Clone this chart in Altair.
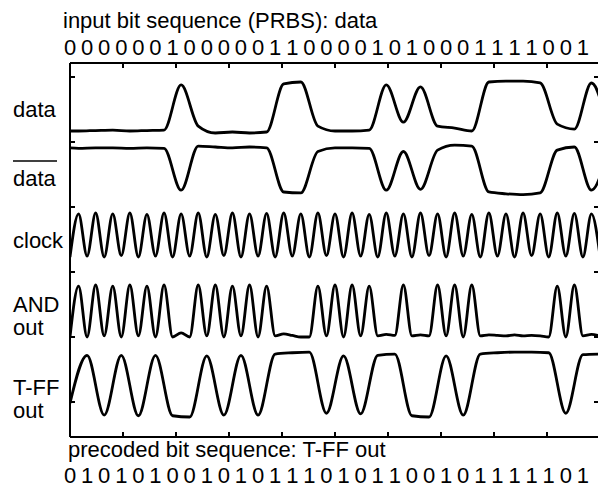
import altair as alt
import pandas as pd

# ---------------- data ----------------
INPUT_BITS = list("0000001000001100001010001111001")
TFF_BITS = list("0101010010101110101100101111101")
TRACE_NAMES = ["data", "data_bar", "clock", "and_out", "tff_out"]
TRACE_LABELS = ["data", "data", "clock", "AND\nout", "T-FF\nout"]
TOP_TITLE = "input bit sequence (PRBS): data"
BOTTOM_TITLE = "precoded bit sequence: T-FF out"

# sample instants, in bit periods
DATA_T = [0.0] + [i + 0.5 for i in range(31)] + [31.5]
HALF_T = [k / 2 for k in range(63)]
TFF_T = list(range(32))

# normalised trace levels (0 = trace low level, 1 = trace high level)
DATA_LEVELS = [0.0,
               0.0, 0.01, 0.02, 0.0, 0.01, 0.02, 0.94, 0.1, -0.04, -0.02,
               -0.04, -0.02, 0.96, 1.0, 0.1, 0.0, 0.0, 0.02, 0.94, 0.18,
               0.9, 0.1, 0.06, 0.0, 1.0, 1.02, 1.02, 0.98, 0.14, 0.04,
               0.98,
               0.0]
DATABAR_LEVELS = [0.98,
                  0.97, 0.98, 0.98, 0.97, 0.98, 0.97, 0.04, 1.02, 1.0, 0.98,
                  1.0, 0.98, 0.0, -0.02, 0.9, 0.98, 0.98, 0.97, 0.04, 0.9,
                  0.06, 0.93, 1.04, 1.02, 0.0, -0.04, -0.06, -0.02, 0.93, 1.0,
                  0.04,
                  1.0]
CLOCK_LEVELS = [0.0,
                0.98, 0.02, 1.0, 0.0, 0.98, 0.03, 1.0, 0.0, 0.97, 0.02,
                1.0, 0.0, 0.98, 0.02, 1.0, 0.0, 0.97, 0.03, 1.0, 0.0,
                0.98, 0.02, 0.99, 0.0, 1.0, 0.02, 0.98, 0.0, 1.0, 0.03,
                0.98, 0.0, 1.0, 0.02, 0.97, 0.0, 1.0, 0.02, 0.98, 0.0,
                1.0, 0.03, 0.98, 0.0, 1.0, 0.02, 0.97, 0.0, 1.0, 0.02,
                0.98, 0.0, 1.0, 0.03, 0.98, 0.0, 1.0, 0.02, 0.99, 0.0,
                0.98, 0.02]
AND_LEVELS = [0.0,
              0.98, 0.0, 1.0, 0.02, 0.98, 0.0, 1.0, 0.02, 0.98, 0.0,
              1.0, 0.0, 0.08, 0.0, 1.0, 0.02, 1.0, 0.0, 0.98, 0.02,
              1.0, 0.0, 0.98, 0.02, 0.06, 0.03, 0.0, 0.0, 0.98, 0.02,
              1.0, 0.0, 1.0, 0.02, 0.98, 0.02, 0.05, 0.03, 1.0, 0.02,
              0.04, 0.02, 1.0, 0.02, 1.0, 0.0, 1.0, 0.02, 0.04, 0.03,
              0.02, 0.04, 0.02, 0.03, 0.02, 0.0, 0.98, 0.0, 1.0, 0.02,
              0.05, 0.02]
TFF_LEVELS = [0.22, 0.98, 0.03, 0.98, 0.02, 0.98, 0.02, 0.0, 0.97, 0.03,
              0.98, 0.03, 1.0, 1.02, 1.03, 0.06, 0.97, 0.05, 0.98, 1.0,
              0.02, 0.0, 0.97, 0.03, 1.0, 1.02, 1.03, 1.03, 1.02, 0.06,
              0.99, 1.0]

X_TICKS = [3.1, 6.2, 9.3, 12.4, 15.5, 18.6, 21.7, 24.8, 27.9]
Y_TICKS = [0, 1, 2, 3, 4, 5]

assert len(DATA_LEVELS) == len(DATA_T)
assert len(DATABAR_LEVELS) == len(DATA_T)
assert len(CLOCK_LEVELS) == len(HALF_T)
assert len(AND_LEVELS) == len(HALF_T)
assert len(TFF_LEVELS) == len(TFF_T)

# ---------------- layout ----------------
W, H = 528, 374
BIT_PX = 530 / 31
X_MAX = W / BIT_PX
Y_DOMAIN = [-35 / 65, 339 / 65]
# low / high level of every trace on the y scale (divisions)
TRACE_LOW = {"data": 4.169, "data_bar": 3.231, "clock": 2.231, "and_out": 1.0, "tff_out": -0.231}
TRACE_HIGH = {"data": 4.923, "data_bar": 3.923, "clock": 2.908, "and_out": 1.8, "tff_out": 0.738}
FONT = "Liberation Sans"
FS = 22

series = {
    "data": (DATA_T, DATA_LEVELS),
    "data_bar": (DATA_T, DATABAR_LEVELS),
    "clock": (HALF_T, CLOCK_LEVELS),
    "and_out": (HALF_T, AND_LEVELS),
    "tff_out": (TFF_T, TFF_LEVELS),
}
rows = []
for name, (ts, lv) in series.items():
    lo, hi = TRACE_LOW[name], TRACE_HIGH[name]
    for t, v in zip(ts, lv):
        rows.append({"trace": name, "t": t, "y": lo + v * (hi - lo)})
df = pd.DataFrame(rows)

xs = alt.Scale(domain=[0, X_MAX], nice=False, zero=False)
ys = alt.Scale(domain=Y_DOMAIN, nice=False, zero=False)

lines = alt.Chart(df).mark_line(
    interpolate="monotone", color="black", strokeWidth=2.8, clip=True
).encode(
    x=alt.X("t:Q", scale=xs, axis=None),
    y=alt.Y("y:Q", scale=ys, axis=None),
    detail="trace:N",
)

one = alt.Data(values=[{}])
frame_top = alt.Chart(one).mark_rule(color="black", strokeWidth=2).encode(
    x=alt.value(0), x2=alt.value(W), y=alt.value(0))
frame_bottom = alt.Chart(one).mark_rule(color="black", strokeWidth=2).encode(
    x=alt.value(0), x2=alt.value(W), y=alt.value(H))
frame_left = alt.Chart(one).mark_rule(color="black", strokeWidth=2).encode(
    x=alt.value(0), y=alt.value(0), y2=alt.value(H))

xt = pd.DataFrame({"t": X_TICKS})
yt = pd.DataFrame({"y": Y_TICKS})
tick_top = alt.Chart(xt).mark_rule(color="black", strokeWidth=2).encode(
    x=alt.X("t:Q", scale=xs, axis=None), y=alt.value(0), y2=alt.value(5))
tick_bottom = alt.Chart(xt).mark_rule(color="black", strokeWidth=2).encode(
    x=alt.X("t:Q", scale=xs, axis=None), y=alt.value(H - 5), y2=alt.value(H))
tick_left = alt.Chart(yt).mark_rule(color="black", strokeWidth=2).encode(
    y=alt.Y("y:Q", scale=ys, axis=None), x=alt.value(0), x2=alt.value(5))
tick_right = alt.Chart(yt).mark_rule(color="black", strokeWidth=2).encode(
    y=alt.Y("y:Q", scale=ys, axis=None), x=alt.value(W - 4), x2=alt.value(W))

top_bits = alt.Chart(pd.DataFrame({"t": list(range(31)), "bit": INPUT_BITS})).mark_text(
    font=FONT, fontSize=FS, align="center", baseline="alphabetic", color="black"
).encode(x=alt.X("t:Q", scale=xs, axis=None), y=alt.value(-8), text="bit:N")
bottom_bits = alt.Chart(pd.DataFrame({"t": list(range(31)), "bit": TFF_BITS})).mark_text(
    font=FONT, fontSize=FS, align="center", baseline="alphabetic", color="black"
).encode(x=alt.X("t:Q", scale=xs, axis=None), y=alt.value(H + 46), text="bit:N")

top_title = alt.Chart(one).mark_text(
    font=FONT, fontSize=FS, align="left", baseline="alphabetic", color="black"
).encode(x=alt.value(-7), y=alt.value(-35), text=alt.value(TOP_TITLE))
bottom_title = alt.Chart(one).mark_text(
    font=FONT, fontSize=FS, align="left", baseline="alphabetic", color="black"
).encode(x=alt.value(-2), y=alt.value(H + 20), text=alt.value(BOTTOM_TITLE))

LABEL_BASELINES = [54, 123, 185, 249, 332]
label_layers = []
for lab, yb in zip(TRACE_LABELS, LABEL_BASELINES):
    label_layers.append(
        alt.Chart(one).mark_text(
            font=FONT, fontSize=FS, align="left", baseline="alphabetic",
            color="black", lineBreak="\n", lineHeight=23
        ).encode(x=alt.value(-57), y=alt.value(yb), text=alt.value(lab))
    )
overline = alt.Chart(one).mark_rule(color="black", strokeWidth=1.6).encode(
    x=alt.value(-57), x2=alt.value(-13), y=alt.value(98))

chart = alt.layer(
    lines, frame_top, frame_bottom, frame_left,
    tick_top, tick_bottom, tick_left, tick_right,
    top_bits, bottom_bits, top_title, bottom_title, overline, *label_layers
).properties(
    width=W, height=H, autosize="none",
    padding={"left": 70, "top": 63, "right": 0, "bottom": 55},
    background="white",
).configure_view(stroke=None)

chart.save("out.html", embed_options={"renderer": "svg", "actions": False})
